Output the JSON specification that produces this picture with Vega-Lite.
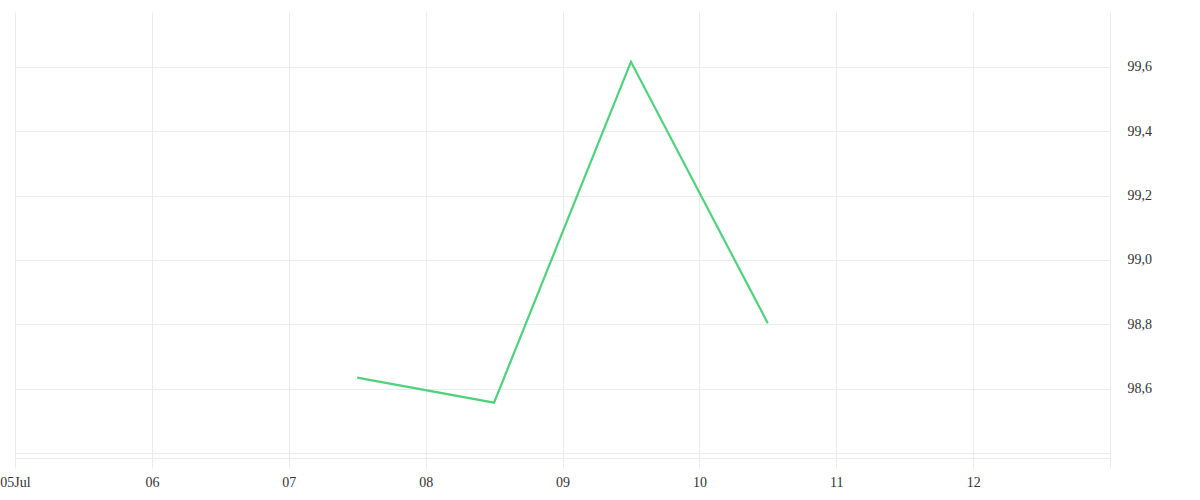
{
  "$schema": "https://vega.github.io/schema/vega-lite/v6.json",
  "width": 1095,
  "height": 446,
  "autosize": {"type": "none"},
  "padding": {"left": 15, "top": 12, "right": 90, "bottom": 42},
  "background": "white",
  "config": {
    "view": {"stroke": null},
    "font": "Liberation Serif",
    "axis": {"gridColor": "#ebebeb", "gridWidth": 1, "labelColor": "#333333", "labelFontSize": 14, "labelFont": "Liberation Serif"}
  },
  "data": {
    "values": [
      {"date": "2024-07-07T12:00:00", "value": 98.634},
      {"date": "2024-07-08T12:00:00", "value": 98.556},
      {"date": "2024-07-09T12:00:00", "value": 99.616},
      {"date": "2024-07-10T12:00:00", "value": 98.803}
    ]
  },
  "mark": {"type": "line", "color": "#4fd27b", "strokeWidth": 2.2},
  "encoding": {
    "x": {
      "field": "date",
      "type": "temporal",
      "scale": {"domain": [{"year": 2024, "month": 7, "date": 5}, {"year": 2024, "month": 7, "date": 13}], "nice": false},
      "axis": {
        "title": null,
        "values": [
          {"year": 2024, "month": 7, "date": 5},
          {"year": 2024, "month": 7, "date": 6},
          {"year": 2024, "month": 7, "date": 7},
          {"year": 2024, "month": 7, "date": 8},
          {"year": 2024, "month": 7, "date": 9},
          {"year": 2024, "month": 7, "date": 10},
          {"year": 2024, "month": 7, "date": 11},
          {"year": 2024, "month": 7, "date": 12},
          {"year": 2024, "month": 7, "date": 13}
        ],
        "labelExpr": "date(datum.value) == 5 ? '05Jul' : (date(datum.value) == 13 ? '' : timeFormat(datum.value, '%d'))",
        "domain": true,
        "domainColor": "#ebebeb",
        "ticks": true,
        "tickSize": 10,
        "tickColor": "#ebebeb",
        "labelPadding": 7,
        "labelFlush": false,
        "labelOverlap": false,
        "grid": true
      }
    },
    "y": {
      "field": "value",
      "type": "quantitative",
      "scale": {"domain": [98.384, 99.771], "nice": false, "zero": false},
      "axis": {
        "orient": "right",
        "title": null,
        "values": [98.4, 98.6, 98.8, 99.0, 99.2, 99.4, 99.6],
        "labelExpr": "datum.value < 98.5 ? '' : replace(format(datum.value, '.1f'), '.', ',')",
        "domain": false,
        "ticks": false,
        "labelPadding": 17,
        "grid": true
      }
    }
  }
}
